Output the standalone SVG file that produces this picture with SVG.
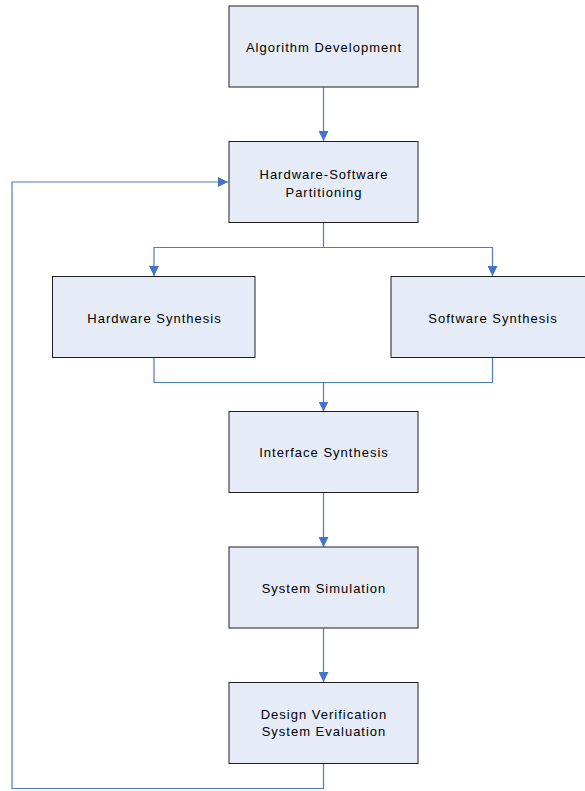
<svg xmlns="http://www.w3.org/2000/svg" width="585" height="791" viewBox="0 0 585 791">
  <style>
    .box { fill: #e6ecf7; stroke: #1e1e1e; stroke-width: 1; }
    .lbl { font-family: "Liberation Sans", Arial, sans-serif; font-size: 13px; letter-spacing: 1px; fill: #000; text-anchor: middle; }
    .wire { fill: none; stroke: #4f7ac7; stroke-width: 1.2; }
  </style>
  <defs>
    <marker id="arrow" viewBox="0 0 10 10" refX="10" refY="5" markerWidth="10" markerHeight="10" markerUnits="userSpaceOnUse" orient="auto">
      <path d="M0,0 L10,5 L0,10 z" fill="#4472c4"/>
    </marker>
  </defs>
  <rect width="585" height="791" fill="#fff"/>

  <g id="connectors">
    <path class="wire" d="M323.5,87.5 V141" marker-end="url(#arrow)"/>
    <path class="wire" d="M323.5,222.5 V247.5 H154 V276" marker-end="url(#arrow)"/>
    <path class="wire" d="M323.5,247.5 H492.5 V276" marker-end="url(#arrow)"/>
    <path class="wire" d="M154,357.5 V382.5 H492.5 V357.5"/>
    <path class="wire" d="M323.5,382.5 V411.5" marker-end="url(#arrow)"/>
    <path class="wire" d="M323.5,492.5 V547" marker-end="url(#arrow)"/>
    <path class="wire" d="M323.5,628.5 V682" marker-end="url(#arrow)"/>
    <path class="wire" d="M323.5,764 V788.5 H12 V182 H228" marker-end="url(#arrow)"/>
  </g>

  <!-- labels are offset half the letter-spacing so they stay centred -->
  <g id="algorithm-development">
    <rect class="box" x="229" y="6" width="189" height="81"/>
    <text class="lbl" x="324" y="51.5">Algorithm Development</text>
  </g>
  <g id="hw-sw-partitioning">
    <rect class="box" x="229" y="141.5" width="189" height="81"/>
    <text class="lbl" x="324" y="179">Hardware-Software</text>
    <text class="lbl" x="324" y="196.5">Partitioning</text>
  </g>
  <g id="hardware-synthesis">
    <rect class="box" x="52.5" y="276.5" width="202.5" height="81"/>
    <text class="lbl" x="154.5" y="322.5">Hardware Synthesis</text>
  </g>
  <g id="software-synthesis">
    <rect class="box" x="391" y="276.5" width="202" height="81"/>
    <text class="lbl" x="493" y="322.5">Software Synthesis</text>
  </g>
  <g id="interface-synthesis">
    <rect class="box" x="229" y="411.5" width="189" height="81"/>
    <text class="lbl" x="324" y="457">Interface Synthesis</text>
  </g>
  <g id="system-simulation">
    <rect class="box" x="229" y="547" width="189" height="81"/>
    <text class="lbl" x="324" y="592.5">System Simulation</text>
  </g>
  <g id="design-verification">
    <rect class="box" x="229" y="682.5" width="189" height="81"/>
    <text class="lbl" x="324" y="718.5">Design Verification</text>
    <text class="lbl" x="324" y="736">System Evaluation</text>
  </g>
</svg>
